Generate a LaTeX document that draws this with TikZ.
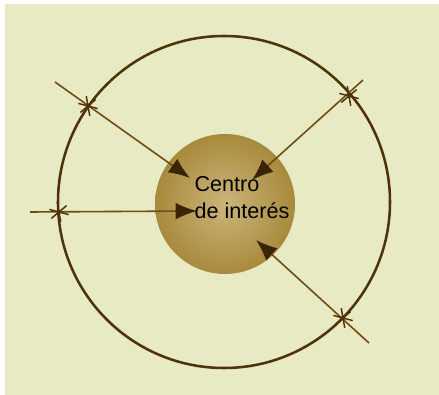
\documentclass[tikz,border=0pt]{standalone}
\usepackage{fontspec}
\setmainfont{Liberation Sans}
\usetikzlibrary{arrows.meta,backgrounds}
\definecolor{paper}{HTML}{E8EAC4}
\definecolor{ink}{HTML}{4E3208}
\definecolor{shaft}{HTML}{6E4E14}
\definecolor{tipfill}{HTML}{3A2406}
\definecolor{corerim}{HTML}{A88A3C}
\definecolor{corecentre}{HTML}{CBB57A}
\newcommand{\starhalf}{10}

\begin{document}
\begin{tikzpicture}[x=0.75pt, y=-0.75pt,
    every node/.style={font=\fontsize{16.2}{20.3}\selectfont, align=left},
    ring/.style={draw=ink, line width=1.9pt},
    core/.style={circle, minimum size=105pt, inner sep=0pt,
      inner color=corecentre, outer color=corerim},
    ray/.style={-{Latex[length=16pt,width=12.5pt,color=tipfill]}, shaft, line width=1.2pt},
    tick/.style={ink, line width=1.1pt}
  ]

  % --- papier : la feuille ne touche pas tout a fait le bord haut/gauche ---
  \useasboundingbox (0,0) rectangle (439,395);
  \fill[white] (0,0) rectangle (439,395);
  \fill[paper] (5,4) rectangle (439,395);

  % --- cercle exterieur et centre d'interet -------------------------------
  \draw[ring] (224,202) circle[radius=166];
  \node[core] (core) at (225,204) {};
  \node (title) at (242,198) {Centro\\de interés};

  % --- rayons : depart hors du cercle, croix sur le cercle, pointe au centre
  \coordinate (s1) at (55,82);   \coordinate (c1) at (88,106);  \coordinate (t1) at (190,178);
  \coordinate (s2) at (30,212);  \coordinate (c2) at (59,212);  \coordinate (t2) at (197,211);
  \coordinate (s3) at (363,80);  \coordinate (c3) at (349,96);  \coordinate (t3) at (252,180);
  \coordinate (s4) at (369,343); \coordinate (c4) at (343,318); \coordinate (t4) at (256,240);

  \foreach \n in {1,2,3,4} {\draw[ray] (s\n) -- (t\n);}

  % --- croix en etoile aux points de passage ------------------------------
  \foreach \n in {1,2,3,4}
    {\foreach \a in {15,80,140}
      {\draw[tick] (c\n) ++(\a:\starhalf) -- ++(\a+180:2*\starhalf);}
     \fill[ink] (c\n) circle[radius=2.2];}

\end{tikzpicture}
\end{document}
